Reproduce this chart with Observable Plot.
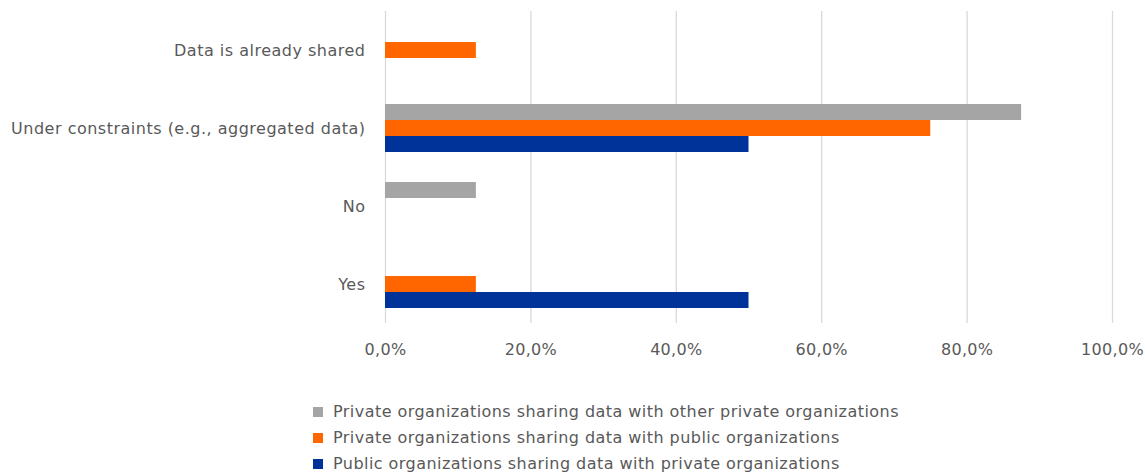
<!DOCTYPE html>
<html>
<head>
<meta charset="utf-8">
<script src="https://cdn.jsdelivr.net/npm/d3@7"></script>
<script src="https://cdn.jsdelivr.net/npm/@observablehq/plot@0.6"></script>
<style>
  body { margin: 0; background: #fff; font-family: "DejaVu Sans", sans-serif; }
  #chart svg { display: block; }
  #chart svg g[aria-label="fy-axis tick label"] text { letter-spacing: 0.5px; }
  #chart svg text { letter-spacing: 0.3px; }
  #legend { margin-left: 313px; margin-top: 14px; color: #595959; font-size: 16px; letter-spacing: 0.45px; }
  #legend .item { height: 26px; line-height: 26px; display: flex; align-items: center; }
  #legend .sw { width: 10px; height: 10px; margin-right: 10px; }
</style>
</head>
<body>
<div id="chart"></div>
<div id="legend"></div>
<script>
const categories = ["Data is already shared", "Under constraints (e.g., aggregated data)", "No", "Yes"];
const seriesNames = [
  "Private organizations sharing data with other private organizations",
  "Private organizations sharing data with public organizations",
  "Public organizations sharing data with private organizations"
];
const seriesColors = ["#A5A5A5", "#FF6600", "#003399"];
// values in percent, per series, in category order
const privPriv = [0, 87.5, 12.5, 0];
const privPub  = [12.5, 75, 0, 12.5];
const pubPriv  = [0, 50, 0, 50];
const xTicks = [0, 20, 40, 60, 80, 100];

const allValues = [privPriv, privPub, pubPriv];
const data = [];
categories.forEach((c, i) => {
  seriesNames.forEach((s, j) => {
    data.push({category: c, series: s, value: allValues[j][i]});
  });
});

const fmt = d => d.toFixed(1).replace(".", ",") + "%";

const chart = Plot.plot({
  width: 1145,
  height: 385,
  marginLeft: 385,
  marginRight: 33,
  marginTop: 11,
  marginBottom: 62,
  style: {fontFamily: "DejaVu Sans, sans-serif", fontSize: "16px", color: "#595959", background: "#fff"},
  x: {domain: [0, 100], ticks: xTicks, tickFormat: fmt, tickSize: 0, tickPadding: 20, label: null},
  y: {domain: seriesNames, axis: null, paddingInner: 0, paddingOuter: 0.907},
  fy: {domain: categories, padding: 0, label: null, tickSize: 0, tickPadding: 20},
  color: {domain: seriesNames, range: seriesColors},
  marks: [
    Plot.ruleX(xTicks, {stroke: "#D9D9D9", strokeWidth: 1.3}),
    Plot.barX(data, {fy: "category", y: "series", x: "value", fill: "series"})
  ]
});
document.getElementById("chart").appendChild(chart);

const legend = document.getElementById("legend");
seriesNames.forEach((s, j) => {
  const item = document.createElement("div");
  item.className = "item";
  const sw = document.createElement("span");
  sw.className = "sw";
  sw.style.background = seriesColors[j];
  const t = document.createElement("span");
  t.textContent = s;
  item.appendChild(sw);
  item.appendChild(t);
  legend.appendChild(item);
});
</script>
</body>
</html>
